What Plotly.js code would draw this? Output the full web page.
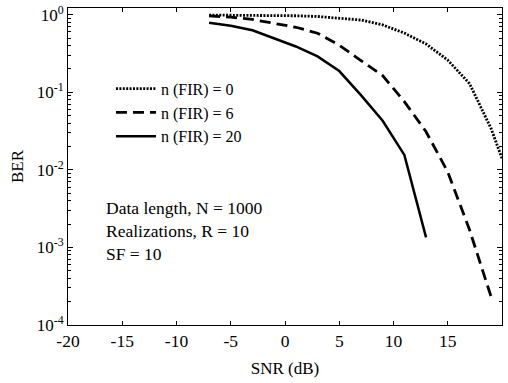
<!DOCTYPE html>
<html>
<head>
<meta charset="utf-8">
<script src="https://cdn.plot.ly/plotly-3.0.1.min.js"></script>
<style>html,body{margin:0;padding:0;background:#fff;}#chart{width:508px;height:383px;}</style>
</head>
<body>
<div id="chart"></div>
<script>
// SNR (dB) sample points
const snrFir0  = [-7, -5, -3, -1, 1, 3, 5, 7, 9, 11, 13, 15, 17, 19, 20];
const berFir0  = [0.99, 0.99, 0.985, 0.98, 0.97, 0.95, 0.91, 0.855, 0.74, 0.58, 0.42, 0.26, 0.13, 0.034, 0.014];

const snrFir6  = [-7, -5, -3, -1, 1, 3, 5, 7, 9, 11, 13, 15, 17, 19];
const berFir6  = [0.965, 0.93, 0.87, 0.78, 0.69, 0.578, 0.405, 0.257, 0.164, 0.076, 0.031, 0.0094, 0.0017, 0.00023];

const snrFir20 = [-7, -5, -3, -1, 1, 3, 5, 7, 9, 11, 13];
const berFir20 = [0.79, 0.72, 0.63, 0.50, 0.39, 0.29, 0.188, 0.092, 0.043, 0.0156, 0.00135];

const seriesNames = ['n (FIR) = 0', 'n (FIR) = 6', 'n (FIR) = 20'];

const xTickVals = [-20, -15, -10, -5, 0, 5, 10, 15, 20];
const xTickText = ['-20', '-15', '-10', '-5', '0', '5', '10', '15', '20'];
const yTickVals = [1e-4, 1e-3, 1e-2, 1e-1, 1];
const yTickText = ['10<sup>-4</sup>', '10<sup>-3</sup>', '10<sup>-2</sup>', '10<sup>-1</sup>', '10<sup>0</sup>'];
const noteLines = ['Data length, N = 1000', 'Realizations, R = 10', 'SF = 10'];

const yMinor = [];
for (let e = -4; e < 0; e++) for (let d = 2; d <= 9; d++) yMinor.push(d * Math.pow(10, e));

const FONT = 'Liberation Serif, Times New Roman, serif';

const traces = [
  {x: snrFir0, y: berFir0, name: seriesNames[0], mode: 'lines',
   line: {color: '#000', width: 2.8, dash: '2px,1.4px'}},
  {x: snrFir6, y: berFir6, name: seriesNames[1], mode: 'lines',
   line: {color: '#000', width: 2.8, dash: '11px,6px'}},
  {x: snrFir20, y: berFir20, name: seriesNames[2], mode: 'lines',
   line: {color: '#000', width: 2.5}}
];

const annY = [0.369, 0.2965, 0.224];
const annotations = noteLines.map((t, i) => ({
  xref: 'paper', yref: 'paper', x: 0.083, y: annY[i], xanchor: 'left', yanchor: 'middle',
  text: t, showarrow: false, font: {family: FONT, size: 17.5, color: '#000'}
}));

const layout = {
  width: 508, height: 383,
  margin: {l: 68, r: 6, t: 8, b: 58},
  paper_bgcolor: '#fff', plot_bgcolor: '#fff',
  font: {family: FONT, size: 16, color: '#000'},
  showlegend: true,
  legend: {x: 0.099, y: 0.799, xanchor: 'left', yanchor: 'top', bgcolor: 'rgba(0,0,0,0)',
           itemwidth: 40,
           font: {family: FONT, size: 16, color: '#000'}, tracegroupgap: 0},
  xaxis: {
    range: [-20, 20], tickmode: 'array', tickvals: xTickVals, ticktext: xTickText,
    showline: true, mirror: 'ticks', linecolor: '#000', linewidth: 1,
    ticks: 'inside', ticklen: 4, tickcolor: '#000', showgrid: false, zeroline: false,
    title: {text: 'SNR (dB)', font: {family: FONT, size: 17}, standoff: 12},
    tickfont: {family: FONT, size: 17.5}
  },
  yaxis: {
    type: 'log', range: [-4, 0.087], tickmode: 'array', tickvals: yTickVals, ticktext: yTickText,
    showline: true, mirror: 'ticks', linecolor: '#000', linewidth: 1,
    ticks: 'inside', ticklen: 5, tickcolor: '#000', showgrid: false, zeroline: false,
    minor: {tickmode: 'array', tickvals: yMinor, ticks: 'inside', ticklen: 3, tickcolor: '#000', showgrid: false},
    title: {text: 'BER', font: {family: FONT, size: 17}, standoff: 8},
    tickfont: {family: FONT, size: 17}
  },
  annotations: annotations
};

Plotly.newPlot('chart', traces, layout, {displayModeBar: false, staticPlot: true});
</script>
</body>
</html>
